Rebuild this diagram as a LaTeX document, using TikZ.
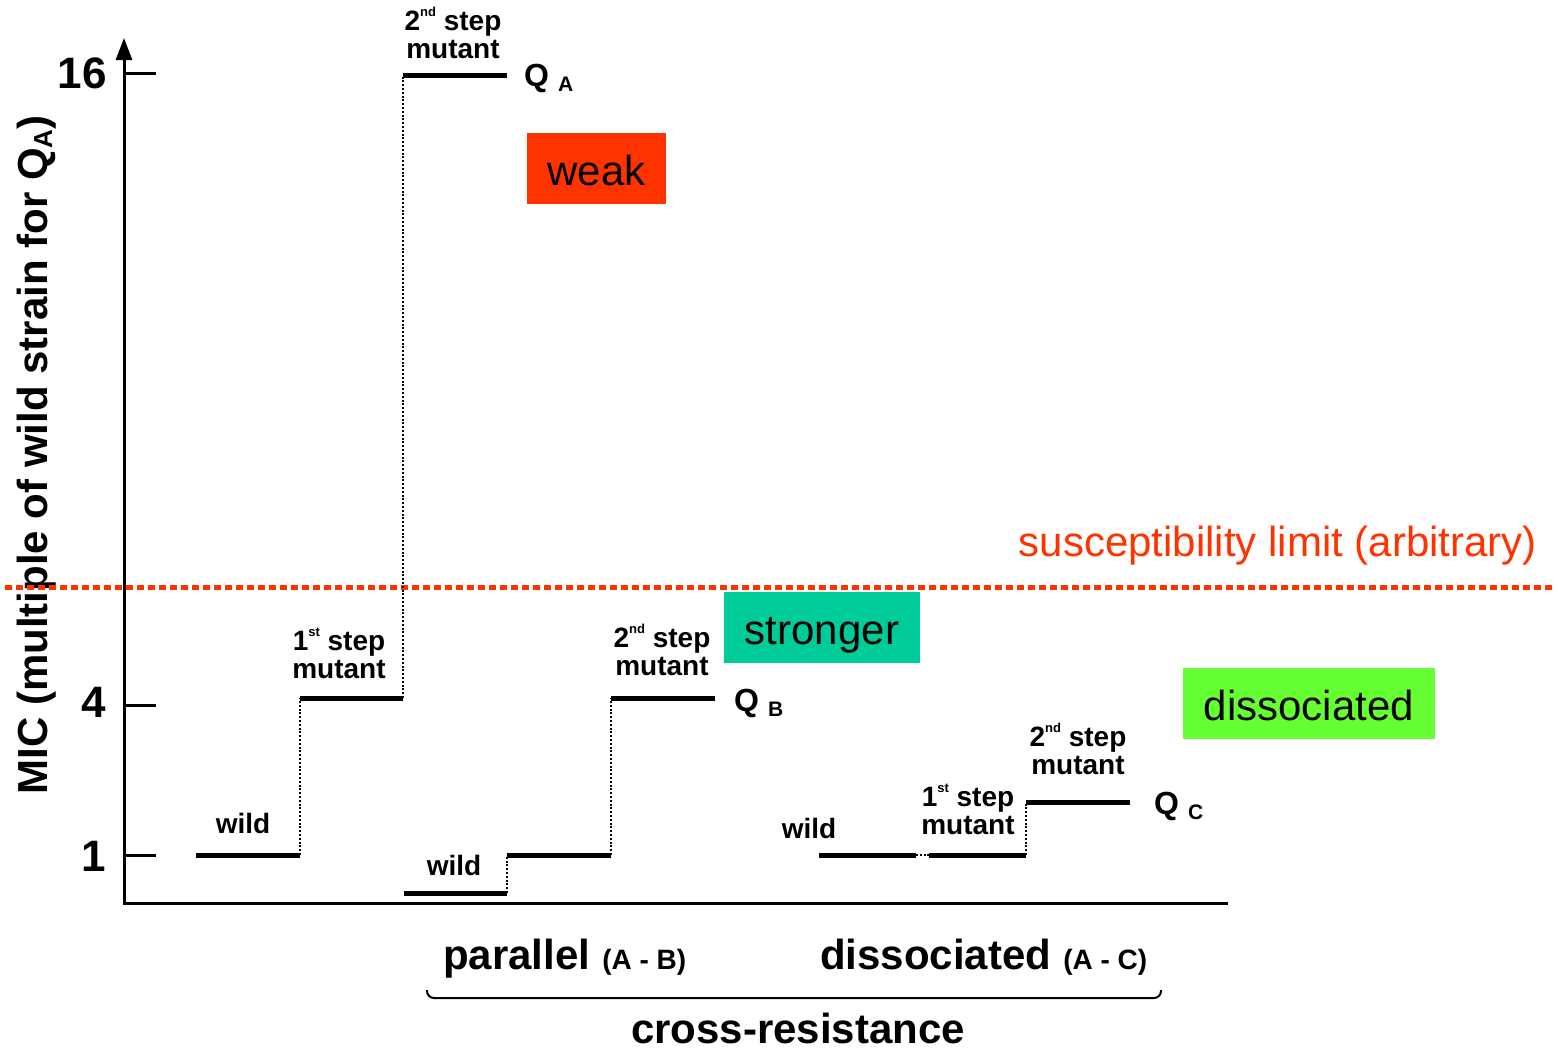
\documentclass[tikz,border=0pt]{standalone}
\usepackage{fontspec}
\setmainfont{Liberation Sans}
\usetikzlibrary{arrows.meta}
\definecolor{redlim}{HTML}{FF3300}
\definecolor{tealbox}{HTML}{00CC99}
\definecolor{greenbox}{HTML}{66FF33}
\newcommand{\fsz}[1]{\fontsize{#1}{#1}\selectfont}
\newcommand{\sups}[1]{\raisebox{0.95ex}{\fontsize{13}{13}\selectfont #1}}
\begin{document}
\begin{tikzpicture}[x=1pt,y=-1pt,
  level/.style={line width=5pt},
  jump/.style={line width=2pt,dash pattern=on 2pt off 1.8pt},
  axisline/.style={line width=3pt},
  lbl/.style={font=\bfseries\fsz{28},inner sep=0pt,align=center,anchor=south},
  wildlbl/.style={font=\bfseries\fsz{28},inner sep=0pt,anchor=base},
  qlbl/.style={font=\bfseries\fsz{32},inner sep=0pt,anchor=base west},
  ticklbl/.style={font=\bfseries\fsz{44},inner sep=0pt,anchor=base east},
  colbox/.style={font=\fsz{42},inner sep=0pt,text height=34pt,text depth=0pt},
  bottomlbl/.style={font=\bfseries\fsz{42},inner sep=0pt,anchor=base west}
]
\useasboundingbox (0,0) rectangle (1558,1050);
\fill[white] (0,0) rectangle (1558,1050);

% axes
\coordinate (origin) at (124,903);
\coordinate (ytop) at (124,38);
\coordinate (xend) at (1228,903);
\draw[axisline,-{Triangle[length=22pt,width=16pt]}] (origin) -- (ytop);
\draw[axisline] (122.5,903) -- (xend);
\coordinate (t16) at (124,73);
\coordinate (t4) at (124,705);
\coordinate (t1) at (124,855);
\draw[axisline] (t16) -- ++(32,0);
\draw[axisline] (t4) -- ++(32,0);
\draw[axisline] (t1) -- ++(32,0);
\node[ticklbl] (n16) at (107,88) {16};
\node[ticklbl] (n4) at (106,717) {4};
\node[ticklbl] (n1) at (106,871) {1};
\node[font=\bfseries\fsz{42},inner sep=0pt,anchor=base,rotate=90] (ylab) at (47,455)
  {MIC (multiple of wild strain for Q\raisebox{-0.12em}{\fsz{26}A})};

% susceptibility limit
\coordinate (limL) at (5,587);
\coordinate (limR) at (1552,587);
\draw[redlim,line width=5pt,dash pattern=on 6.5pt off 4.5pt] (limL) -- (limR);
\node[font=\fsz{42},text=redlim,inner sep=0pt,anchor=base east] (limtxt) at (1537,556)
  {susceptibility limit (arbitrary)};

% group A
\coordinate (a0) at (196,855);
\coordinate (a1) at (300,855);
\coordinate (a2) at (300,698);
\coordinate (a3) at (403,698);
\coordinate (a4) at (403,75);
\coordinate (a5) at (507,75);
\draw[level] (a0) -- (a1);
\draw[jump] (a1) -- (a2);
\draw[level] (a2) -- (a3);
\draw[jump] (a3) -- (a4);
\draw[level] (a4) -- (a5);
\node[wildlbl] (wA) at (243,833) {wild};
\node[lbl] (mA1) at (339,679) {1\sups{st} step\\mutant};
\node[lbl] (mA2) at (453,59) {2\sups{nd} step\\mutant};
\node[qlbl] (qA) at (524,86) {Q\hspace{9pt}\raisebox{-5pt}{\fsz{21}A}};

% group B
\coordinate (b0) at (404,893);
\coordinate (b1) at (507,893);
\coordinate (b2) at (507,855);
\coordinate (b3) at (611,855);
\coordinate (b4) at (611,698);
\coordinate (b5) at (715,698);
\draw[level] (b0) -- (b1);
\draw[jump] (b1) -- (b2);
\draw[level] (b2) -- (b3);
\draw[jump] (b3) -- (b4);
\draw[level] (b4) -- (b5);
\node[wildlbl] (wB) at (454,875) {wild};
\node[lbl] (mB2) at (662,676) {2\sups{nd} step\\mutant};
\node[qlbl] (qB) at (734,711) {Q\hspace{9pt}\raisebox{-5pt}{\fsz{21}B}};

% group C
\coordinate (c0) at (819,855);
\coordinate (c1) at (916,855);
\coordinate (c2) at (929,855);
\coordinate (c3) at (1026,855);
\coordinate (c4) at (1026,802);
\coordinate (c5) at (1130,802);
\draw[level] (c0) -- (c1);
\draw[jump] (c1) -- (c2);
\draw[level] (c2) -- (c3);
\draw[jump] (c3) -- (c4);
\draw[level] (c4) -- (c5);
\node[wildlbl] (wC) at (809,838) {wild};
\node[lbl] (mC1) at (968,835) {1\sups{st} step\\mutant};
\node[lbl] (mC2) at (1078,775) {2\sups{nd} step\\mutant};
\node[qlbl] (qC) at (1154,814) {Q\hspace{9pt}\raisebox{-5pt}{\fsz{21}C}};

% coloured boxes
\node[colbox,fill=redlim,minimum width=139pt,minimum height=71pt] (weak) at (596.5,168.5) {weak};
\node[colbox,fill=tealbox,minimum width=196pt,minimum height=71pt] (stronger) at (822,627.5) {stronger};
\node[colbox,fill=greenbox,minimum width=252pt,minimum height=71pt] (dissoc) at (1309,703.5) {dissociated};

% bottom labels
\node[bottomlbl] (par) at (443,969) {parallel\hspace{12pt}{\fsz{28}(A - B)}};
\node[bottomlbl] (dis) at (820,969) {dissociated\hspace{12pt}{\fsz{28}(A - C)}};
\coordinate (brL) at (427,990);
\coordinate (brR) at (1161,990);
\draw[line width=2pt,rounded corners=7pt] (brL) -- (427,998) -- (1161,998) -- (brR);
\node[font=\bfseries\fsz{42},inner sep=0pt,anchor=base] (cross) at (798,1043) {cross-resistance};
\end{tikzpicture}
\end{document}
